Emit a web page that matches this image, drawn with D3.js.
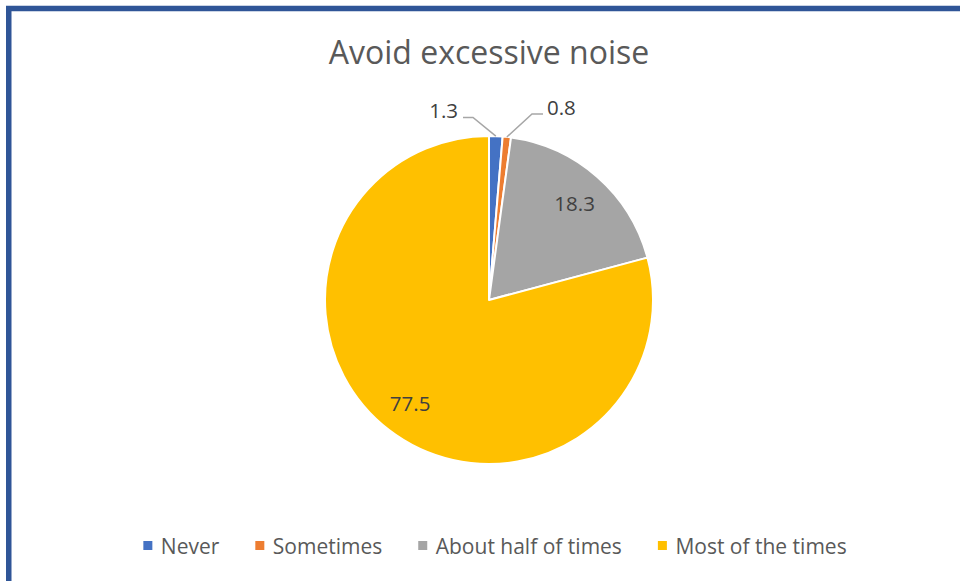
<!DOCTYPE html>
<html>
<head>
<meta charset="utf-8">
<script src="https://cdn.jsdelivr.net/npm/d3@7/dist/d3.min.js"></script>
<style>
  html, body { margin: 0; padding: 0; background: #fff; }
  svg { display: block; }
  text { font-family: "Open Sans", "Liberation Sans", sans-serif; }
</style>
</head>
<body>
<svg id="chart" width="960" height="581"></svg>
<script>
// Survey answers for "Avoid excessive noise" (percent of respondents)
const categories = ["Never", "Sometimes", "About half of times", "Most of the times"];
const values = [1.3, 0.8, 18.3, 77.5];
const colors = ["#4472C4", "#ED7D31", "#A5A5A5", "#FFC000"];
const chartTitle = "Avoid excessive noise";

const W = 960, H = 581;
const cx = 489, cy = 300, R = 164;

const svg = d3.select("#chart");

// Frame (only top and left edges fall inside the view)
svg.append("rect")
  .attr("x", 8.75).attr("y", 8.5)
  .attr("width", W + 20).attr("height", H + 20)
  .attr("fill", "#fff")
  .attr("stroke", "#2F5597")
  .attr("stroke-width", 5.5);

// Title
svg.append("text")
  .attr("x", cx).attr("y", 64)
  .attr("text-anchor", "middle")
  .attr("font-size", 32)
  .attr("fill", "#595959")
  .text(chartTitle);

const data = categories.map((c, i) => ({ name: c, value: values[i], color: colors[i] }));

const pie = d3.pie().value(d => d.value).sort(null).startAngle(0).endAngle(2 * Math.PI);
const arcs = pie(data);
const arc = d3.arc().innerRadius(0).outerRadius(R);

const g = svg.append("g").attr("transform", `translate(${cx},${cy})`);

g.selectAll("path.slice")
  .data(arcs)
  .join("path")
  .attr("class", "slice")
  .attr("d", arc)
  .attr("fill", d => d.data.color)
  .attr("stroke", "#fff")
  .attr("stroke-width", 2)
  .attr("stroke-linejoin", "round");

const fmt = v => v.toFixed(1);
const labelFont = 20.5;
const labelColor = "#404040";

// Large slices: labels inside the slice
const insideArc = d3.arc().innerRadius(R * 0.79).outerRadius(R * 0.79);
arcs.filter(a => a.data.value >= 5).forEach(a => {
  const [x, y] = insideArc.centroid(a);
  g.append("text")
    .attr("x", x).attr("y", y)
    .attr("text-anchor", "middle")
    .attr("dominant-baseline", "central")
    .attr("font-size", labelFont)
    .attr("fill", labelColor)
    .text(fmt(a.data.value));
});

// Small slices: callout labels with leader lines above the pie
const callouts = {
  0: { elbow: [-16, -182.5], end: [-26, -182.5], anchor: "end", tx: -31 },
  1: { elbow: [43, -186], end: [54, -186], anchor: "start", tx: 58 }
};
arcs.forEach((a, i) => {
  const c = callouts[i];
  if (!c) return;
  const mid = (a.startAngle + a.endAngle) / 2;
  const p0 = [Math.sin(mid) * R, -Math.cos(mid) * R];
  g.append("polyline")
    .attr("points", [p0, c.elbow, c.end].map(p => p.join(",")).join(" "))
    .attr("fill", "none")
    .attr("stroke", "#A6A6A6")
    .attr("stroke-width", 1.5);
  g.append("text")
    .attr("x", c.tx).attr("y", c.end[1] + 0.5)
    .attr("text-anchor", c.anchor)
    .attr("font-size", labelFont)
    .attr("fill", labelColor)
    .text(fmt(a.data.value));
});

// Legend
const legend = svg.append("g");
const sw = 9, gapText = 8.5, gapItem = 36;
let xPos = 0;
data.forEach(d => {
  const it = legend.append("g");
  it.append("rect").attr("width", sw).attr("height", sw).attr("y", -sw / 2 - 0.5).attr("fill", d.color);
  const t = it.append("text")
    .attr("x", sw + gapText)
    .attr("dominant-baseline", "central")
    .attr("font-size", 21)
    .attr("fill", "#595959")
    .text(d.name);
  const w = sw + gapText + t.node().getComputedTextLength();
  it.attr("transform", `translate(${xPos},0)`);
  xPos += w + gapItem;
});
const total = xPos - gapItem;
legend.attr("transform", `translate(${495 - total / 2},546)`);
</script>
</body>
</html>
